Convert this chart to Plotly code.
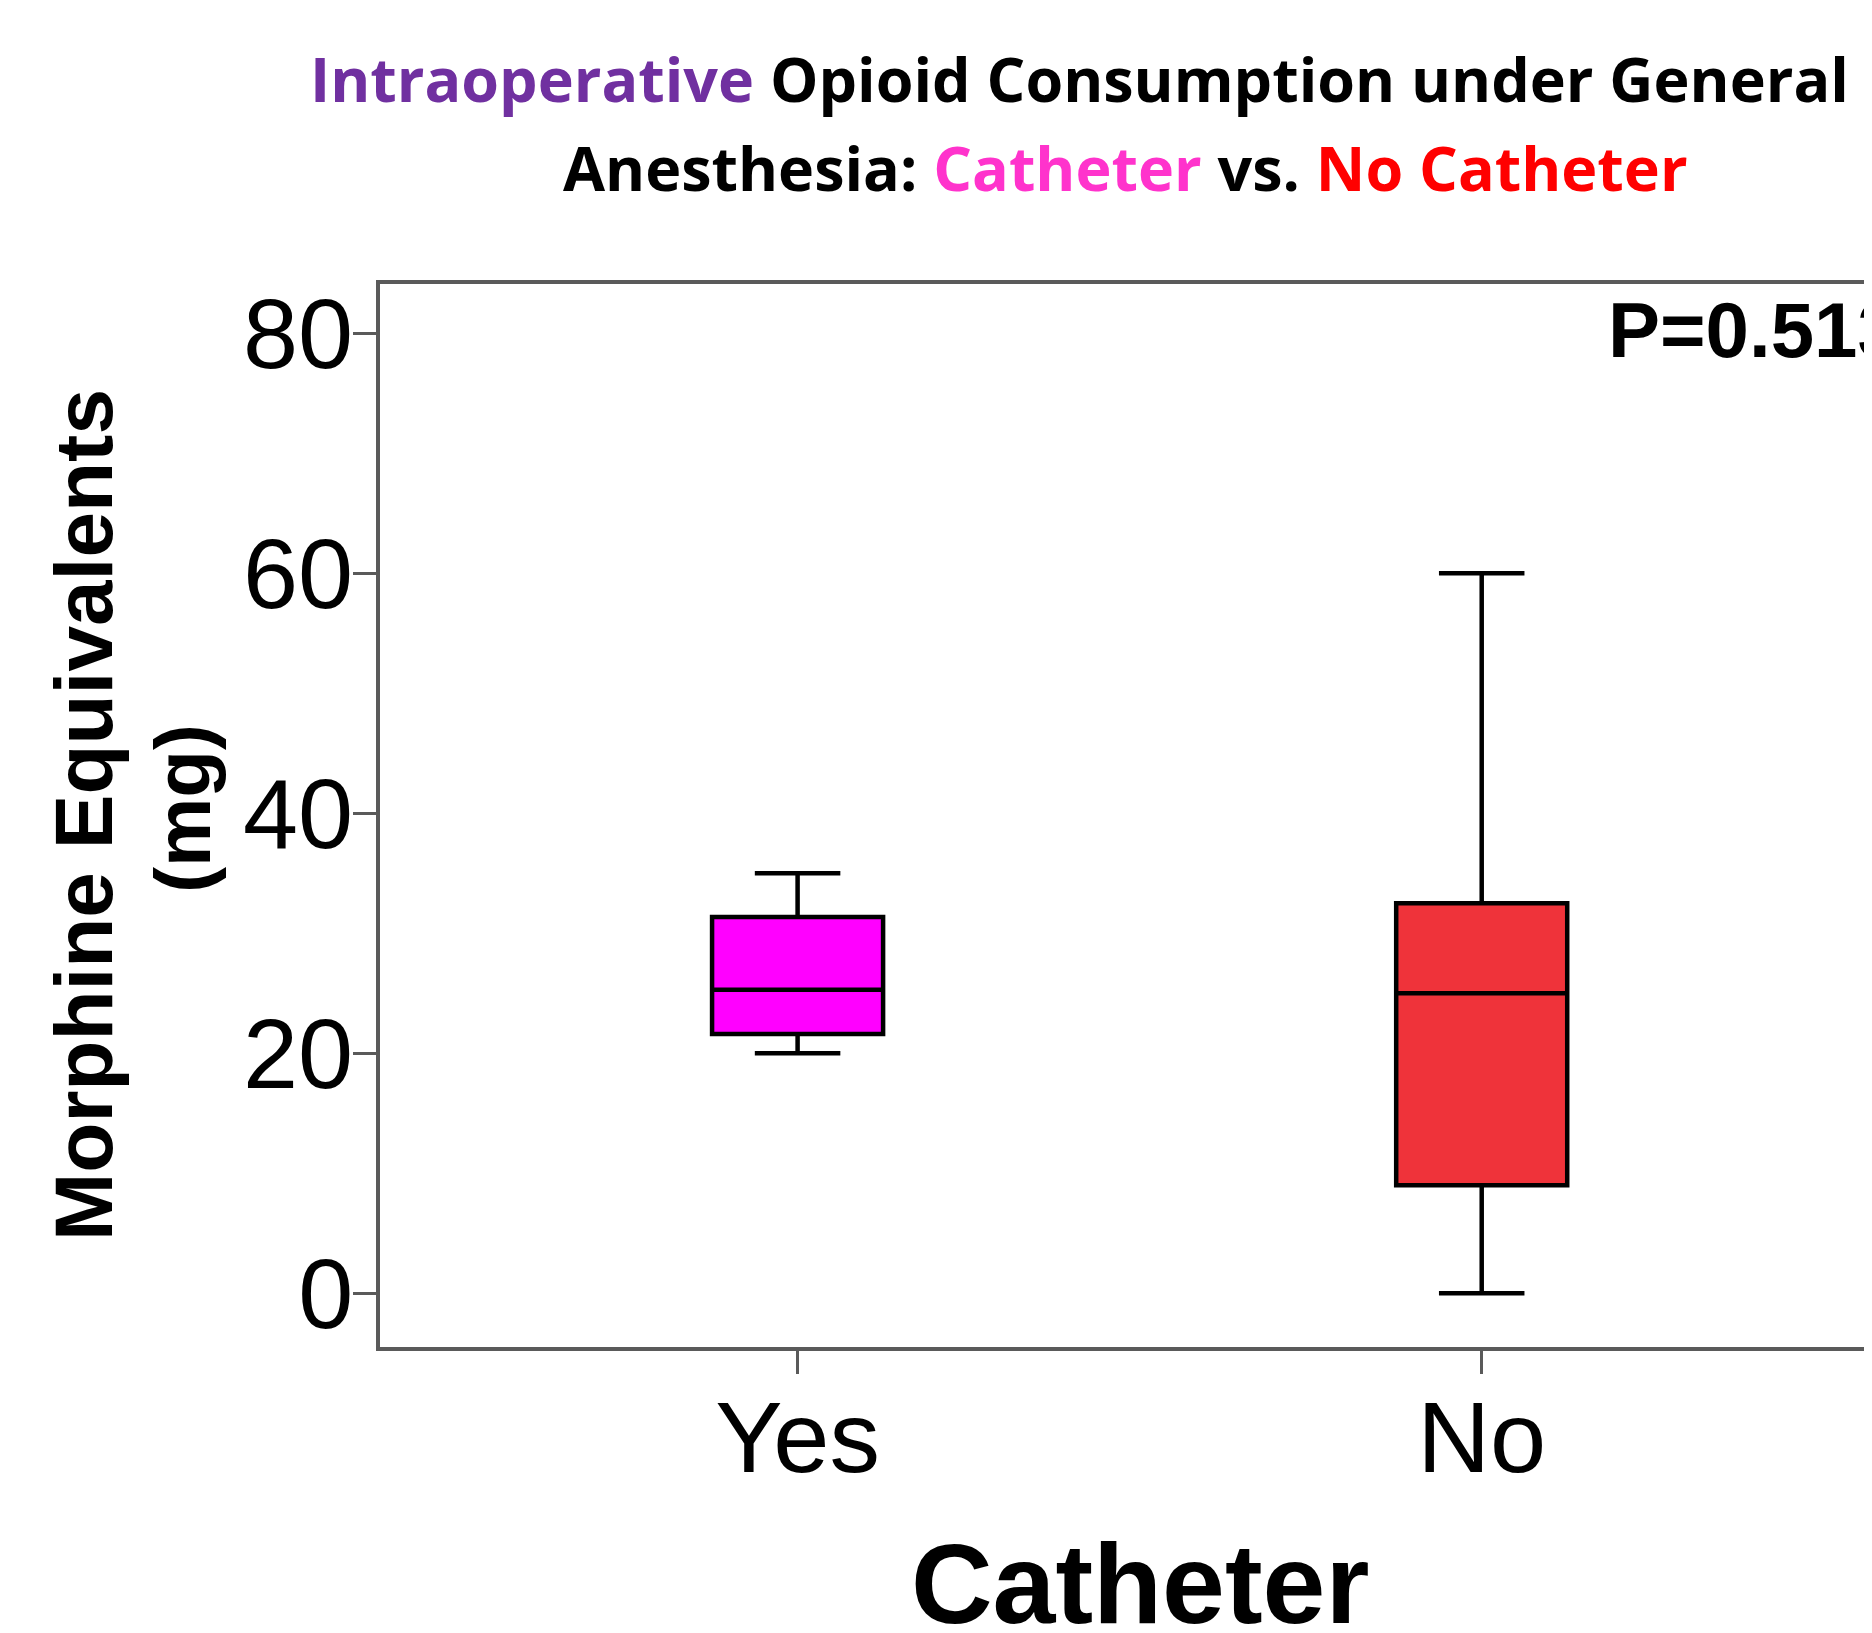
import plotly.graph_objects as go

# ---- data ----
categories = ["Yes", "No"]
lower_whisker = [20.0, 0.0]
q1_values = [21.6, 9.0]
median_values = [25.3, 25.0]
q3_values = [31.35, 32.5]
upper_whisker = [35.0, 60.0]
box_colors = ["#FF00FF", "#EF333A"]
y_ticks = [0, 20, 40, 60, 80]
p_value_text = "P=0.513"

W, H = 1872, 1633
L, T, R, B = 372, 276, 0, 294
PW, PH = W - L - R, H - T - B


def px(x):
    return (x - L) / PW


def py(y):
    return (H - B - y) / PH


fig = go.Figure()
for i, cat in enumerate(categories):
    fig.add_trace(go.Box(
        x=[i],
        q1=[q1_values[i]], median=[median_values[i]], q3=[q3_values[i]],
        lowerfence=[lower_whisker[i]], upperfence=[upper_whisker[i]],
        fillcolor=box_colors[i],
        line=dict(color="black", width=4.5),
        width=0.25, whiskerwidth=0.5,
        boxpoints=False, showlegend=False, name=cat,
    ))

axis_color = "#5a5a5a"
fig.update_xaxes(
    range=[-0.6104, 1.5822],
    tickmode="array", tickvals=[0, 1], ticktext=categories,
    showline=True, linecolor=axis_color, linewidth=4, mirror=True,
    ticks="outside", ticklen=23, tickwidth=2.5, tickcolor=axis_color,
    ticklabelstandoff=-23,
    tickfont=dict(family="Liberation Sans, Arial", size=101, color="black"),
    showgrid=False, zeroline=False,
)
fig.update_yaxes(
    range=[-4.475, 84.11],
    tickmode="array", tickvals=y_ticks,
    showline=True, linecolor=axis_color, linewidth=4, mirror=False,
    ticks="outside", ticklen=23, tickwidth=2.5, tickcolor=axis_color,
    ticklabelstandoff=-20,
    tickfont=dict(family="Liberation Sans, Arial", size=99, color="black"),
    showgrid=False, zeroline=False,
)

ann = []
title_font = dict(family="Open Sans, Noto Sans, sans-serif", size=61, color="black")
ann.append(dict(
    text="<b><span style='color:#7030A0'>Intraoperative</span> Opioid Consumption under General</b>",
    x=px(300), y=py(70), xref="paper", yref="paper",
    xanchor="left", yanchor="middle", showarrow=False, font=title_font,
))
ann.append(dict(
    text="<b>Anesthesia: <span style='color:#FF33CC'>Catheter</span> vs. <span style='color:#FF0000'>No Catheter</span></b>",
    x=px(553), y=py(160), xref="paper", yref="paper",
    xanchor="left", yanchor="middle", showarrow=False, font=title_font,
))
ann.append(dict(
    text="<b>" + p_value_text + "</b>",
    x=px(1598), y=py(322), xref="paper", yref="paper",
    xanchor="left", yanchor="middle", showarrow=False,
    font=dict(family="Liberation Sans, Arial", size=78, color="black"),
))
ann.append(dict(
    text="<b>Catheter</b>",
    x=px(1132), y=py(1576), xref="paper", yref="paper",
    xanchor="center", yanchor="middle", showarrow=False,
    font=dict(family="Liberation Sans, Arial", size=113, color="black"),
))
ann.append(dict(
    text="<b>Morphine Equivalents</b>",
    x=px(75), y=py(807), xref="paper", yref="paper",
    xanchor="center", yanchor="middle", showarrow=False, textangle=-90,
    font=dict(family="Liberation Sans, Arial", size=82, color="black"),
))
ann.append(dict(
    text="<b>(mg)</b>",
    x=px(175), y=py(801), xref="paper", yref="paper",
    xanchor="center", yanchor="middle", showarrow=False, textangle=-90,
    font=dict(family="Liberation Sans, Arial", size=78, color="black"),
))

fig.update_layout(
    width=W, height=H,
    margin=dict(l=L, r=R, t=T, b=B, pad=0),
    paper_bgcolor="white", plot_bgcolor="white",
    annotations=ann,
)

fig.write_html("out.html")
